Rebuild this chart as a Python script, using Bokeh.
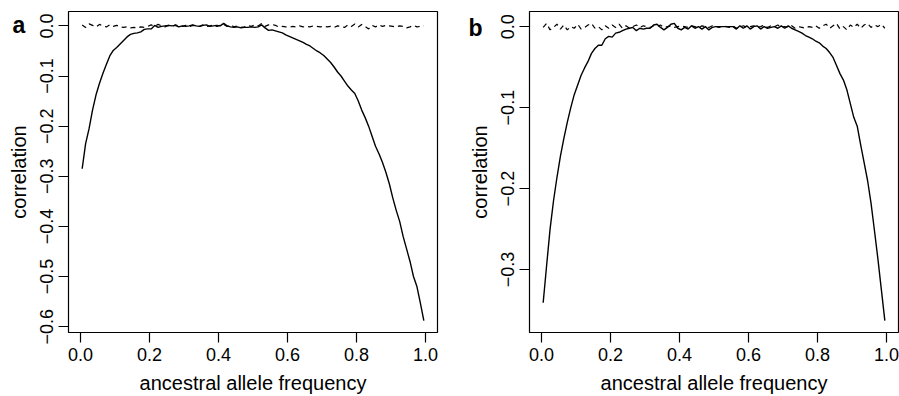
from bokeh.plotting import figure
from bokeh.layouts import row
from bokeh.models import Range1d, FixedTicker, CustomJSTickFormatter, Label
from bokeh.embed import file_html
from bokeh.resources import INLINE

# ---- data ----
freq = [round(0.005 + 0.01 * i, 3) for i in range(100)]

corr_a = [
    -0.285, -0.235, -0.205, -0.168, -0.138, -0.115, -0.095, -0.077, -0.060, -0.049,
    -0.043, -0.036, -0.029, -0.022, -0.017, -0.015, -0.014, -0.012, -0.007, -0.006,
    -0.006, 0.001, -0.003, -0.001, 0.000, 0.001, 0.000, 0.001, -0.002, 0.000,
    -0.001, 0.000, 0.002, 0.000, -0.001, 0.001, 0.002, -0.001, 0.000, 0.001,
    0.000, 0.005, 0.000, -0.002, -0.003, -0.002, -0.004, -0.003, -0.003, -0.002,
    -0.003, -0.002, 0.002, -0.004, -0.009, -0.008, -0.010, -0.012, -0.014, -0.018,
    -0.021, -0.024, -0.027, -0.030, -0.033, -0.037, -0.040, -0.045, -0.050, -0.054,
    -0.059, -0.066, -0.073, -0.082, -0.092, -0.100, -0.110, -0.120, -0.128, -0.135,
    -0.150, -0.168, -0.183, -0.200, -0.220, -0.240, -0.255, -0.272, -0.292, -0.315,
    -0.343, -0.368, -0.390, -0.420, -0.445, -0.470, -0.500, -0.520, -0.553, -0.588,
]
null_a = [
    0.002, -0.003, 0.004, 0.001, -0.002, 0.003, 0.000, -0.002, 0.002, -0.001,
    0.001, -0.002, -0.003, -0.002, -0.004, -0.003, -0.004, -0.002, -0.003, -0.001,
    0.002, -0.001, 0.003, 0.000, -0.002, 0.001, -0.001, 0.002, 0.000, -0.001,
    0.001, -0.002, 0.001, 0.000, -0.001, 0.002, -0.001, 0.000, 0.002, -0.001,
    0.001, 0.003, -0.001, 0.002, -0.002, 0.000, -0.003, -0.002, 0.001, -0.001,
    0.002, 0.000, 0.005, -0.001, 0.002, 0.003, 0.001, -0.002, -0.001, -0.002,
    -0.003, -0.001, -0.002, 0.000, -0.002, -0.001, -0.002, 0.000, -0.001, -0.002,
    -0.001, -0.002, -0.001, -0.003, 0.000, -0.001, -0.003, 0.002, -0.001, 0.004,
    -0.002, 0.003, -0.001, -0.006, 0.001, -0.002, 0.002, -0.001, 0.001, 0.000,
    -0.001, -0.002, 0.000, -0.001, -0.004, -0.002, 0.001, -0.002, -0.001, 0.000,
]
corr_b = [
    -0.341, -0.295, -0.250, -0.215, -0.186, -0.160, -0.138, -0.118, -0.100, -0.084,
    -0.072, -0.060, -0.051, -0.043, -0.033, -0.027, -0.023, -0.023, -0.015, -0.012,
    -0.013, -0.008, -0.007, -0.005, -0.003, -0.002, -0.001, -0.005, -0.002, -0.003,
    -0.002, -0.002, 0.002, 0.003, -0.001, -0.004, -0.001, 0.003, 0.004, -0.002,
    -0.004, -0.001, -0.003, 0.001, -0.002, 0.000, -0.003, 0.000, -0.004, -0.001,
    0.000, 0.000, 0.000, 0.000, 0.000, 0.000, -0.003, 0.001, -0.002, 0.001,
    -0.003, 0.000, 0.001, -0.003, 0.000, -0.002, -0.001, 0.000, -0.002, 0.001,
    -0.002, 0.001, -0.002, -0.004, -0.006, -0.008, -0.011, -0.013, -0.015, -0.018,
    -0.020, -0.024, -0.027, -0.032, -0.038, -0.048, -0.058, -0.066, -0.078, -0.095,
    -0.112, -0.123, -0.146, -0.168, -0.190, -0.218, -0.252, -0.287, -0.325, -0.363,
]
null_b = [
    -0.001, 0.004, -0.004, -0.001, 0.003, -0.003, 0.002, -0.004, 0.000, -0.002,
    0.003, -0.003, -0.001, 0.002, 0.004, -0.002, 0.000, -0.004, 0.001, -0.002,
    0.002, -0.001, 0.003, -0.002, 0.001, -0.002, 0.000, 0.002, -0.001, 0.001,
    0.000, -0.001, 0.001, 0.000, 0.002, -0.001, 0.000, 0.001, -0.001, 0.000,
    0.001, 0.000, -0.001, 0.001, 0.000, -0.002, 0.001, 0.000, -0.001, 0.001,
    0.000, -0.001, 0.001, 0.000, -0.001, 0.001, -0.002, 0.000, 0.001, -0.001,
    0.000, 0.001, -0.001, 0.000, 0.002, -0.001, 0.001, 0.000, 0.002, -0.001,
    0.000, -0.001, 0.001, -0.002, 0.000, -0.001, -0.002, 0.000, -0.001, 0.001,
    -0.002, 0.001, 0.003, -0.002, 0.001, 0.004, -0.003, 0.000, -0.004, 0.002,
    -0.001, 0.003, -0.002, 0.002, 0.004, -0.001, 0.002, 0.000, 0.003, -0.002,
]
x_ticks = [0.0, 0.2, 0.4, 0.6, 0.8, 1.0]
y_ticks_a = [0.0, -0.1, -0.2, -0.3, -0.4, -0.5, -0.6]
y_ticks_b = [0.0, -0.1, -0.2, -0.3]

FONT = "Liberation Sans"
fmt_code = "return tick.toFixed(1).replace('-', '\\u2212');"
TOP, BOTTOM, HEIGHT = 11, 63, 396


def pad_range(vals):
    lo, hi = min(vals), max(vals)
    d = 0.04 * (hi - lo)
    return Range1d(lo - d, hi + d)


def make_panel(corr, null, yticks, letter, left, right, width, lpos, lbase, lside):
    xr = pad_range(freq)
    yr = pad_range(corr + null)
    p = figure(width=width, height=HEIGHT, output_backend="svg", toolbar_location=None,
               x_range=xr, y_range=yr,
               min_border_left=left, min_border_right=right,
               min_border_top=TOP, min_border_bottom=BOTTOM)
    p.background_fill_color = "white"
    p.border_fill_color = "white"
    p.outline_line_color = "black"
    p.outline_line_width = 1.2
    p.grid.visible = False

    p.line(freq, corr, line_color="black", line_width=1.4)
    p.line(freq, null, line_color="black", line_width=1.2, line_dash="5 4")

    for ax in (p.xaxis[0], p.yaxis[0]):
        ax.axis_line_color = None
        ax.major_tick_out = 10
        ax.major_tick_in = 0
        ax.minor_tick_out = 0
        ax.minor_tick_in = 0
        ax.major_tick_line_color = "black"
        ax.major_tick_line_width = 1.2
        ax.major_label_text_font = FONT
        ax.major_label_text_font_size = "18px"
        ax.major_label_text_color = "black"
        ax.axis_label_text_font = FONT
        ax.axis_label_text_font_size = "20px"
        ax.axis_label_text_font_style = "normal"
        ax.axis_label_text_color = "black"
        ax.formatter = CustomJSTickFormatter(code=fmt_code)

    p.xaxis.ticker = FixedTicker(ticks=x_ticks)
    p.yaxis.ticker = FixedTicker(ticks=yticks)
    p.xaxis.axis_label = "ancestral allele frequency"
    p.yaxis.axis_label = "correlation"
    p.yaxis.major_label_orientation = "vertical"
    p.xaxis.major_label_standoff = 5
    p.yaxis.major_label_standoff = 5
    p.xaxis.axis_label_standoff = 8
    p.yaxis.axis_label_standoff = 8

    # panel letter in the top-left margin (pixel offsets converted to data units)
    fw = width - left - right
    fh = HEIGHT - TOP - BOTTOM
    lx = xr.start + (lpos - left) / fw * (xr.end - xr.start)
    ly = yr.end - (lbase - TOP) / fh * (yr.end - yr.start)
    lab = Label(x=lx, y=ly, text=letter, text_font=FONT, text_font_size="23px",
                text_font_style="bold", text_color="black", text_baseline="alphabetic")
    p.add_layout(lab, lside)
    return p


pa = make_panel(corr_a, null_a, y_ticks_a, "a", 68, 13, 450, 12, 25, "right")
pb = make_panel(corr_b, null_b, y_ticks_b, "b", 79, 1, 449, 18, 28, "left")

layout = row(pa, pb)
open("out.html", "w").write(file_html(layout, INLINE))
